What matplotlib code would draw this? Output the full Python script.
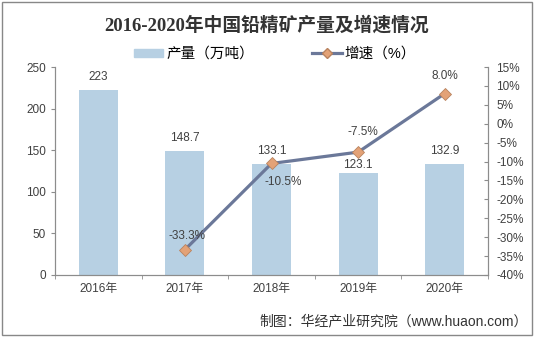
import matplotlib.pyplot as plt
from matplotlib.lines import Line2D
from matplotlib.patches import Patch

plt.rcParams['font.family'] = ['Liberation Sans', 'Noto Sans CJK SC', 'DejaVu Sans']

# data
years = ["2016年", "2017年", "2018年", "2019年", "2020年"]
output = [223, 148.7, 133.1, 123.1, 132.9]
output_labels = ["223", "148.7", "133.1", "123.1", "132.9"]
growth_years = [1, 2, 3, 4]
growth = [-33.3, -10.5, -7.5, 8.0]

bar_color = "#b7d0e3"
line_color = "#6b7899"
marker_color = "#e3a277"
axis_color = "#8c8c8c"
text_color = "#404040"

fig = plt.figure(figsize=(5.34, 3.37), dpi=100)
ax = fig.add_axes([0.103, 0.184, 0.811, 0.617])
x = list(range(len(years)))
ax.bar(x, output, width=0.45, color=bar_color, zorder=1)
ax.set_xlim(-0.5, 4.5)
ax.set_ylim(0, 250)
ax.set_yticks(range(0, 251, 50))
ax.set_xticks(x)
ax.set_xticklabels(years)
ax.tick_params(axis='y', labelsize=8.5, colors=text_color, length=3, color=axis_color)
ax.set_xticks([i + 0.5 for i in range(-1, 5)], minor=True)
ax.tick_params(axis='x', which='major', length=0, pad=6, labelsize=8.5, colors=text_color)
ax.tick_params(axis='x', which='minor', length=3, color=axis_color)
ax.spines['top'].set_visible(False)
for s in ['left', 'bottom', 'right']:
    ax.spines[s].set_color(axis_color)

# bar value labels (pixel offsets above bar top)
bar_offsets = [13, 13, 13, 8, 13]
for xi, v, lab, off in zip(x, output, output_labels, bar_offsets):
    ax.annotate(lab, (xi, v), xytext=(0, off), textcoords='offset pixels',
                ha='center', va='center', fontsize=8.5, color=text_color)

ax2 = ax.twinx()
ax2.plot(growth_years, growth, color=line_color, lw=2.3, marker='D', ms=6,
         markerfacecolor=marker_color, markeredgecolor="#b8825e", markeredgewidth=0.6, zorder=3)
ax2.set_ylim(-40, 15)
ax2.set_yticks(range(-40, 16, 5))
ax2.set_yticklabels([f"{t}%" for t in range(-40, 16, 5)])
ax2.tick_params(axis='y', labelsize=8.5, colors=text_color, length=3, color=axis_color, direction='in', pad=6)
ax2.spines['top'].set_visible(False)
for s in ['left', 'bottom', 'right']:
    ax2.spines[s].set_color(axis_color)

# growth labels (pixel offsets from point)
growth_offsets = [(2, 14), (12, -19), (5, 20), (0, 18)]
for xi, g, (dx, dy) in zip(growth_years, growth, growth_offsets):
    ax2.annotate(f"{g:.1f}%", (xi, g), xytext=(dx, dy), textcoords='offset pixels',
                 ha='center', va='center', fontsize=8.5, color=text_color)

fig.text(0.5, 0.926, "2016-2020年中国铅精矿产量及增速情况", ha='center', va='center',
         fontsize=13.5, fontweight='bold', color="#333333",
         family=['Liberation Serif', 'Noto Sans CJK SC'])

handles = [Patch(color=bar_color),
           Line2D([0], [0], color=line_color, lw=2.3, marker='D', ms=5,
                  markerfacecolor=marker_color, markeredgecolor="#b8825e")]
fig.legend(handles, ["产量（万吨）", "增速（%）"], loc='center', bbox_to_anchor=(0.515, 0.84),
           ncol=2, frameon=False, fontsize=10.5, handlelength=2.0, handleheight=0.5,
           columnspacing=4, handletextpad=0.2)

fig.text(0.988, 0.045, "制图：华经产业研究院（www.huaon.com）", ha='right', va='center',
         fontsize=10, color="#333333")

border = plt.Rectangle((0.003, 0.005), 0.994, 0.99, transform=fig.transFigure,
                       fill=False, edgecolor="#888888", lw=1)
fig.patches.append(border)

fig.savefig("out.png", dpi=100)
